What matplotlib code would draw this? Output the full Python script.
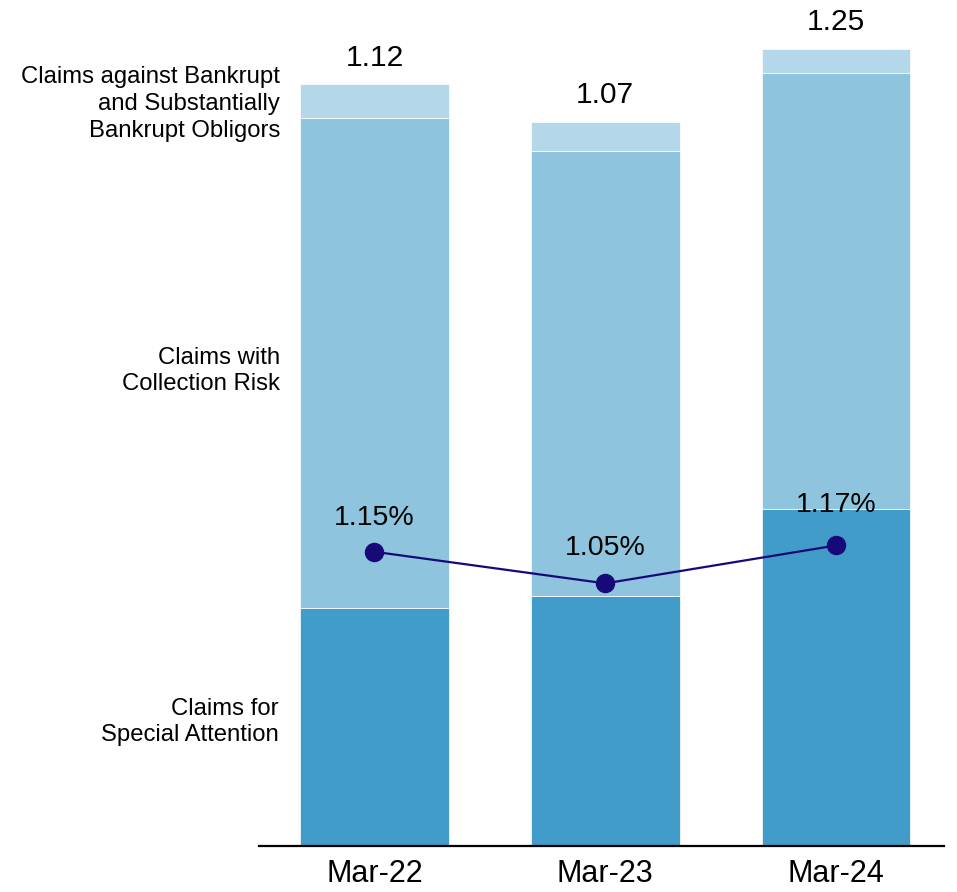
import matplotlib.pyplot as plt

plt.rcParams['font.family'] = ['Liberation Sans', 'DejaVu Sans']

# data
periods = ['Mar-22', 'Mar-23', 'Mar-24']
special_attention = [0.350, 0.368, 0.496]
collection_risk = [0.720, 0.654, 0.641]
bankrupt = [0.050, 0.043, 0.035]
total_labels = ['1.12', '1.07', '1.25']
ratio = [1.15, 1.05, 1.17]
ratio_labels = ['1.15%', '1.05%', '1.17%']

c_bottom = '#429cc9'
c_mid = '#8ec4de'
c_top = '#b4d7e9'
c_line = '#170a78'

fig = plt.figure(figsize=(9.57, 8.92), dpi=100)
ax = fig.add_axes([259 / 957, 46 / 892, 685 / 957, 846 / 892])

x = list(range(len(periods)))
w = 0.645
mid_base = [a for a in special_attention]
top_base = [a + b for a, b in zip(special_attention, collection_risk)]
tops = [a + b for a, b in zip(top_base, bankrupt)]

ax.bar(x, special_attention, width=w, color=c_bottom, edgecolor='white', linewidth=0.5)
ax.bar(x, collection_risk, width=w, bottom=mid_base, color=c_mid, edgecolor='white', linewidth=0.5)
ax.bar(x, bankrupt, width=w, bottom=top_base, color=c_top, edgecolor='white', linewidth=0.5)

for xi, t, lab in zip(x, tops, total_labels):
    ax.annotate(lab, (xi, t), xytext=(0, 13.5), textcoords='offset points',
                ha='center', va='baseline', fontsize=21.5)

ax.set_xlim(-0.5005, 2.468)
ax.set_ylim(0, 1.244)
ax.set_xticks(x)
ax.set_xticklabels(periods, fontsize=22)
ax.tick_params(axis='x', length=0, pad=9)
ax.set_yticks([])
for s in ['top', 'left', 'right']:
    ax.spines[s].set_visible(False)
ax.spines['bottom'].set_linewidth(1.6)
ax.spines['bottom'].set_color('black')

# ratio line on second axis
ax2 = ax.twinx()
ax2.plot(x, ratio, color=c_line, linewidth=1.6, marker='o', markersize=13)
offsets = [19.5, 20.5, 24]
for xi, r, lab, off in zip(x, ratio, ratio_labels, offsets):
    ax2.annotate(lab, (xi, r), xytext=(0, off), textcoords='offset points',
                 ha='center', va='baseline', fontsize=20.5)
ax2.set_ylim(0.219, 2.896)
ax2.set_yticks([])
for s in ['top', 'left', 'right', 'bottom']:
    ax2.spines[s].set_visible(False)

# segment captions on the left
fig.text(280 / 957, 1 - 104 / 892, 'Claims against Bankrupt\nand Substantially\nBankrupt Obligors',
         ha='right', va='center', fontsize=17.2, linespacing=1.27)
fig.text(280 / 957, 1 - 371 / 892, 'Claims with\nCollection Risk',
         ha='right', va='center', fontsize=17.2, linespacing=1.27)
fig.text(279 / 957, 1 - 722 / 892, 'Claims for\nSpecial Attention',
         ha='right', va='center', fontsize=17.2, linespacing=1.27)

fig.savefig('out.png', dpi=100)
plt.close()
